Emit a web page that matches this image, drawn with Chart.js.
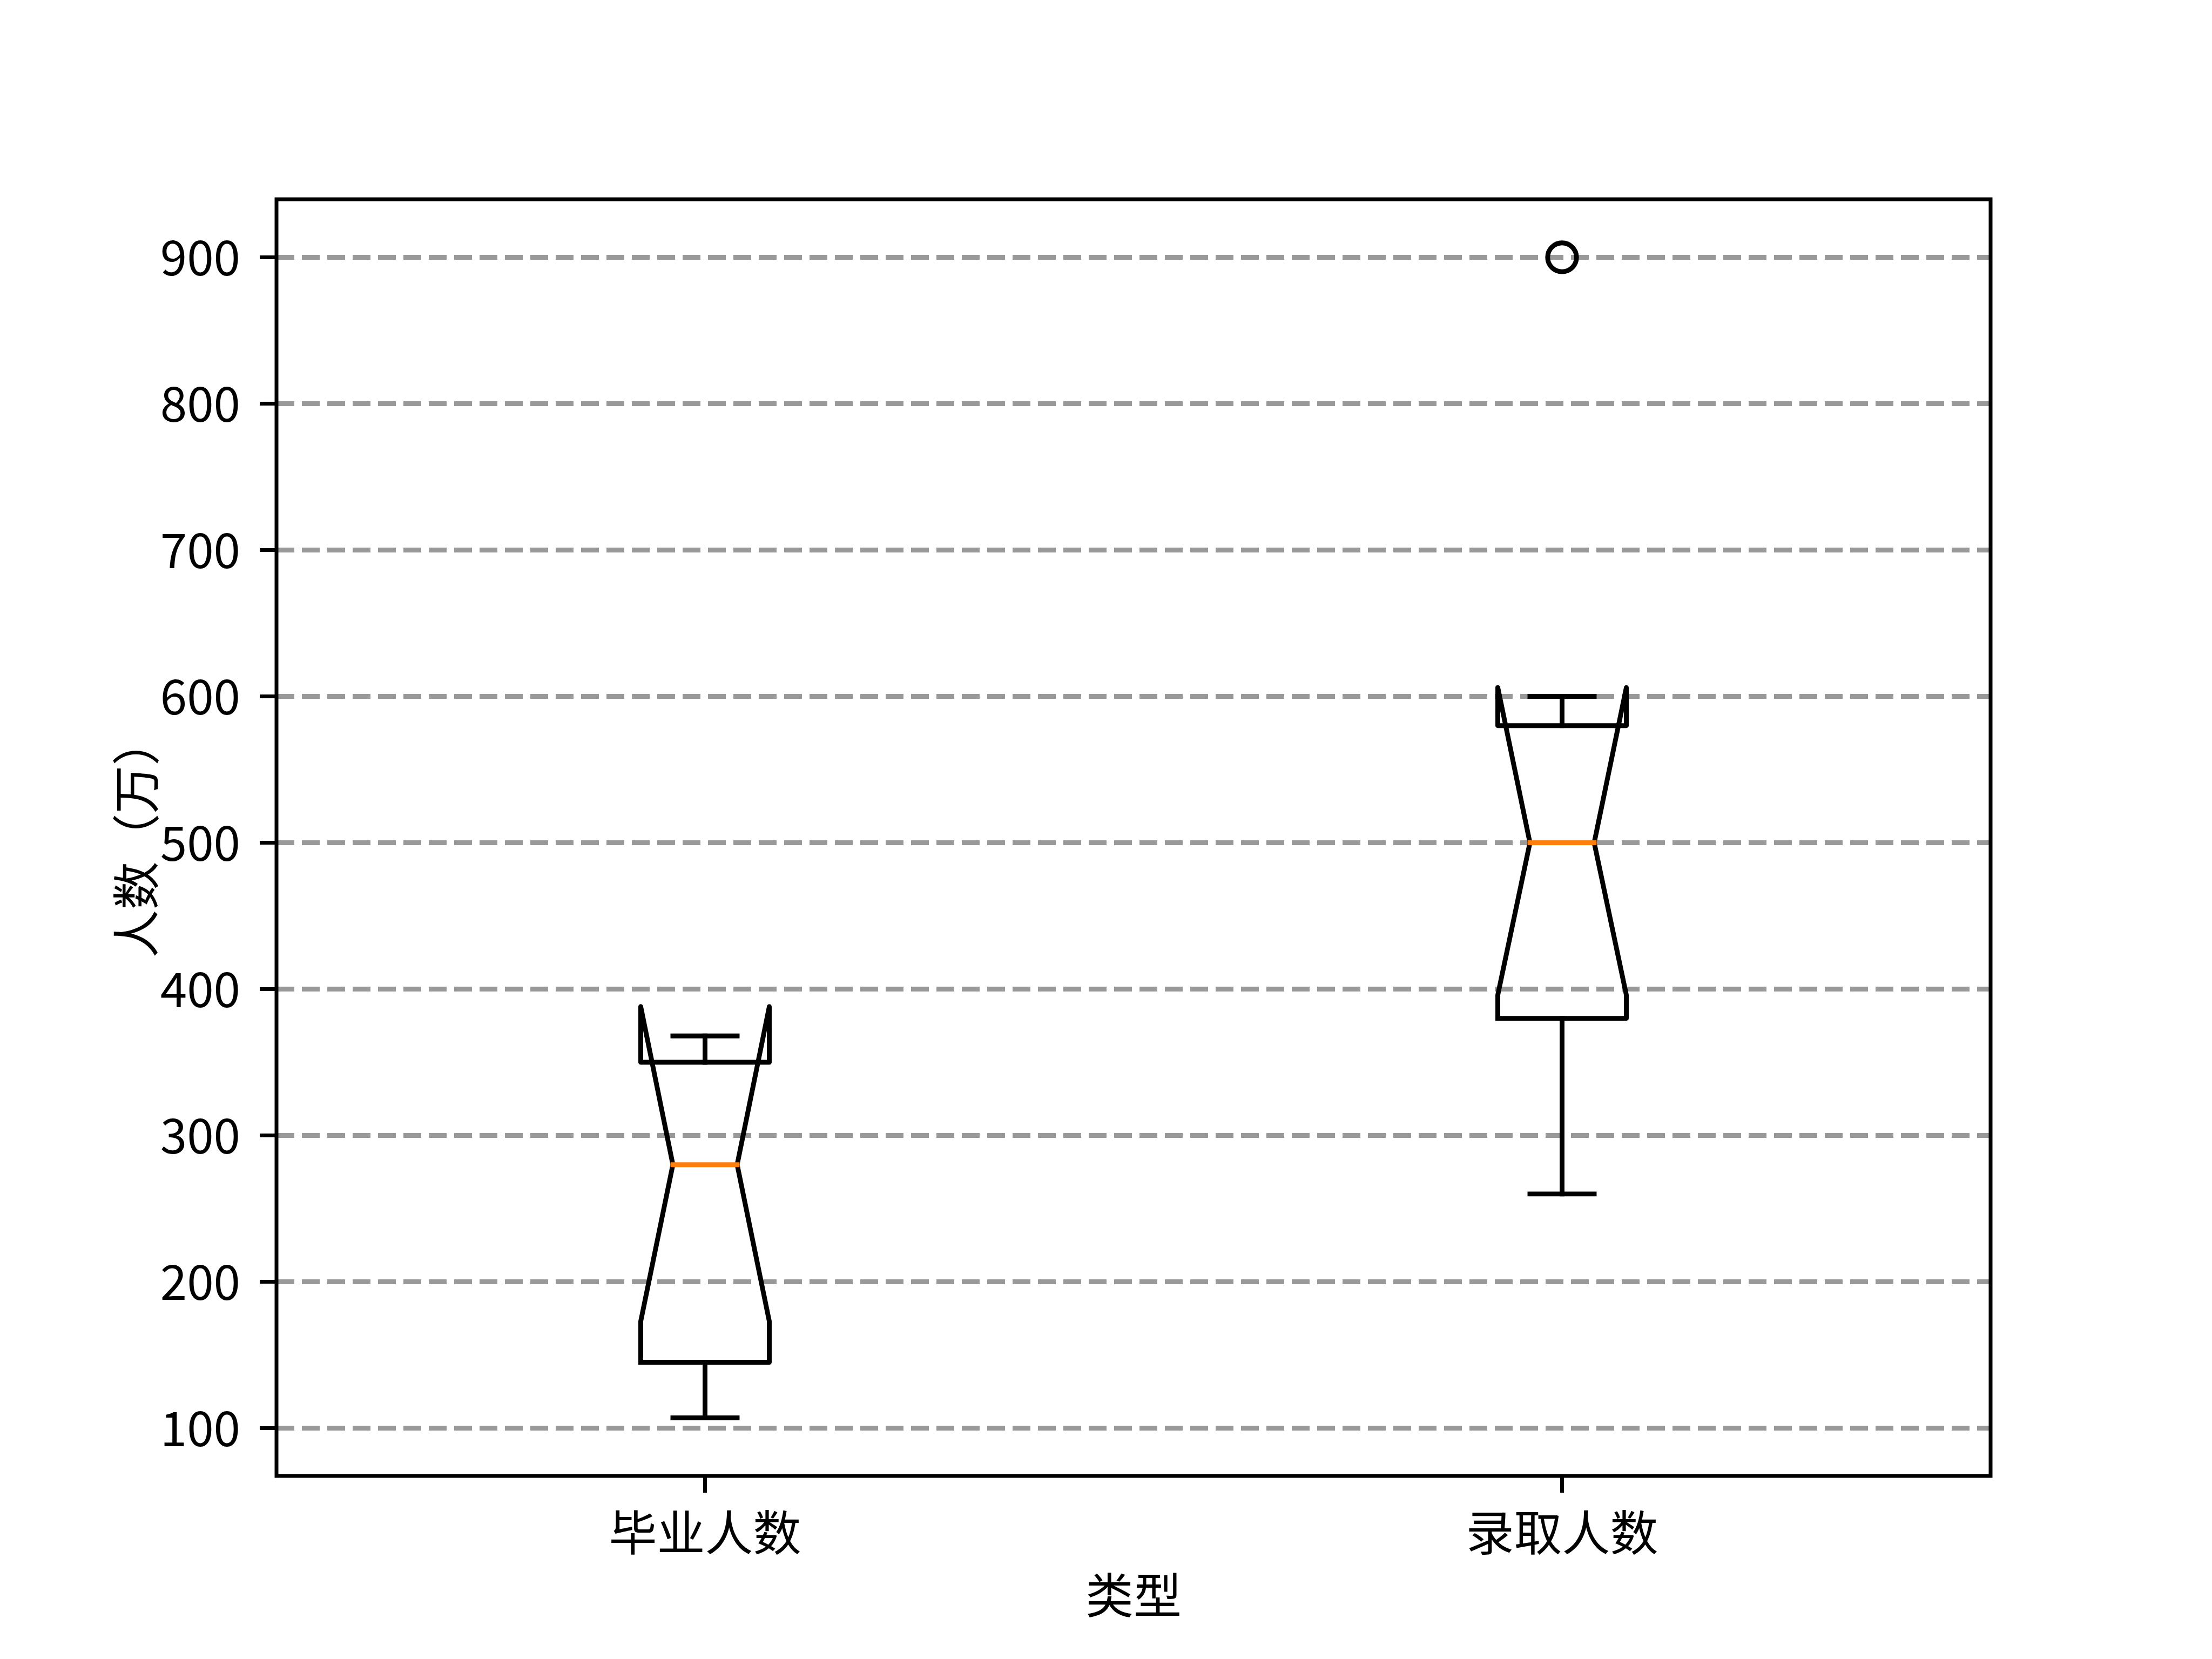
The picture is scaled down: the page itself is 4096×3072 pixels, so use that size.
<!DOCTYPE html>
<html><head><meta charset="utf-8">
<script src="https://cdn.jsdelivr.net/npm/chart.js@4/dist/chart.umd.min.js"></script>
<style>html,body{margin:0;padding:0;background:#fff;} #wrap{width:4096px;height:3072px;}</style>
</head><body><div id="wrap"><canvas id="c" width="4096" height="3072"></canvas></div>
<script>
// ---- data ----
const categories = ['毕业人数', '录取人数'];
const whiskerLow = [107, 260];
const q1 = [145, 380];
const medians = [280, 500];
const q3 = [350, 580];
const whiskerHigh = [368, 600];
const notchLow = [173, 396];
const notchHigh = [388, 606];
const outliers = [[], [900]];
const yTicks = [100, 200, 300, 400, 500, 600, 700, 800, 900];
const yLabel = '人数（万）';
const xLabel = '类型';

// ---- styling ----
const FONT = "'Noto Sans CJK SC', 'Noto Sans', sans-serif";
const FS = 89;
const LW = 8.9;
const BOX_HALF = 0.075, CAP_HALF = 0.0375;

const datasets = [];
function lineDs(pts, color, order) {
  return { data: pts, showLine: true, borderColor: color, backgroundColor: color, borderWidth: LW,
           pointRadius: 0, pointHoverRadius: 0, fill: false, tension: 0,
           borderJoinStyle: 'round', borderCapStyle: 'square', order: order };
}
categories.forEach((cat, i) => {
  const c = i + 1;
  const L = c - BOX_HALF, R = c + BOX_HALF, l = c - CAP_HALF, r = c + CAP_HALF;
  datasets.push(lineDs([
    {x: L, y: q1[i]}, {x: L, y: notchLow[i]}, {x: l, y: medians[i]}, {x: L, y: notchHigh[i]},
    {x: L, y: q3[i]}, {x: R, y: q3[i]}, {x: R, y: notchHigh[i]}, {x: r, y: medians[i]},
    {x: R, y: notchLow[i]}, {x: R, y: q1[i]}, {x: L, y: q1[i]}
  ], '#000', 1));
  datasets.push(lineDs([{x: c, y: q1[i]}, {x: c, y: whiskerLow[i]}], '#000', 1));
  datasets.push(lineDs([{x: l, y: whiskerLow[i]}, {x: r, y: whiskerLow[i]}], '#000', 1));
  datasets.push(lineDs([{x: c, y: q3[i]}, {x: c, y: whiskerHigh[i]}], '#000', 1));
  datasets.push(lineDs([{x: l, y: whiskerHigh[i]}, {x: r, y: whiskerHigh[i]}], '#000', 1));
  datasets.push(lineDs([{x: l, y: medians[i]}, {x: r, y: medians[i]}], '#ff7f0e', 0));
});
const outPts = [];
outliers.forEach((arr, i) => arr.forEach(v => outPts.push({x: i + 1, y: v})));
datasets.push({ data: outPts, showLine: false, pointStyle: 'circle', pointRadius: 26.7, pointHoverRadius: 26.7,
  borderColor: '#000', backgroundColor: 'rgba(0,0,0,0)', pointBorderWidth: LW, borderWidth: LW, order: 0 });

const framePlugin = {
  id: 'frame',
  afterDraw(chart) {
    const {ctx, chartArea: a} = chart;
    ctx.save();
    ctx.strokeStyle = '#000';
    ctx.lineWidth = 7;
    ctx.lineJoin = 'miter';
    ctx.strokeRect(a.left, a.top, a.right - a.left, a.bottom - a.top);
    ctx.restore();
  }
};

Chart.defaults.color = '#000';
Chart.defaults.font.family = FONT;

new Chart(document.getElementById('c'), {
  type: 'scatter',
  data: { datasets },
  options: {
    responsive: false, animation: false, devicePixelRatio: 1, events: [],
    layout: { padding: { left: 0, top: 369, right: 410, bottom: 0 } },
    plugins: { legend: { display: false }, tooltip: { enabled: false } },
    scales: {
      x: {
        type: 'linear', position: 'bottom', min: 0.5, max: 2.5,
        afterBuildTicks: s => { s.ticks = categories.map((c, i) => ({ value: i + 1 })); },
        afterFit: s => { s.height = 339; },
        ticks: { callback: v => categories[Math.round(v) - 1] ?? '', autoSkip: false, maxRotation: 0, minRotation: 0,
                 padding: 20, font: { size: FS, family: FONT }, color: '#000' },
        grid: { drawOnChartArea: false, drawTicks: true, tickLength: 31, tickWidth: 7, tickColor: '#000' },
        border: { display: false },
        title: { display: true, text: xLabel, color: '#000', font: { size: FS, family: FONT }, padding: { top: 0, bottom: 65 } }
      },
      y: {
        type: 'linear', position: 'left', min: 67.35, max: 939.65,
        afterBuildTicks: s => { s.ticks = yTicks.map(v => ({ value: v })); },
        afterFit: s => { s.width = 512; },
        ticks: { callback: v => String(v), padding: 36, font: { size: FS, family: FONT }, color: '#000' },
        grid: { color: 'rgb(153,153,153)', lineWidth: LW, drawTicks: true, tickLength: 31, tickWidth: 7, tickColor: '#000' },
        border: { display: false, dash: [33, 14] },
        title: { display: true, text: yLabel, color: '#000', font: { size: FS, family: FONT }, padding: { top: 198, bottom: 0 } }
      }
    }
  },
  plugins: [framePlugin]
});
</script>
</body></html>
